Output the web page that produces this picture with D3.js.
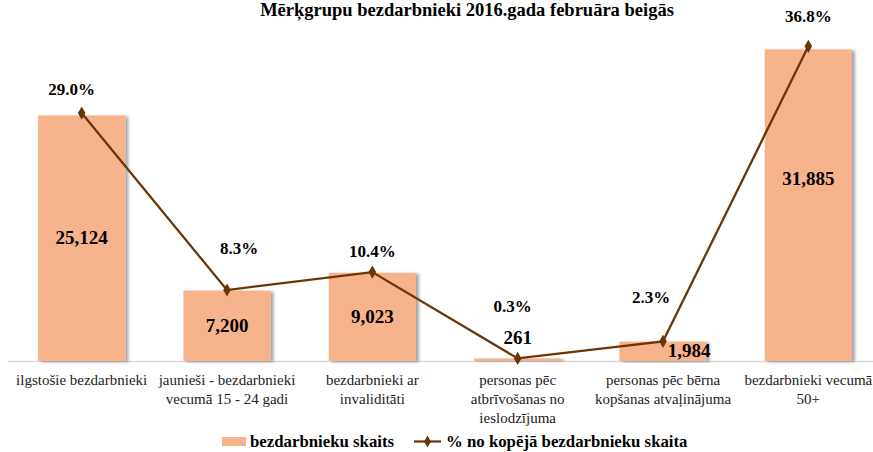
<!DOCTYPE html>
<html>
<head>
<meta charset="utf-8">
<script src="https://cdn.jsdelivr.net/npm/d3@7"></script>
<style>
  body { margin: 0; background: #fff; }
</style>
</head>
<body>
<svg id="chart"></svg>
<script>
// chart data
var categories = ["ilgstošie bezdarbnieki", "jaunieši - bezdarbnieki vecumā 15 - 24 gadi",
  "bezdarbnieki ar invaliditāti", "personas pēc atbrīvošanas no ieslodzījuma",
  "personas pēc bērna kopšanas atvaļinājuma", "bezdarbnieki vecumā 50+"];
var tickLines = [
  ["ilgstošie bezdarbnieki"],
  ["jaunieši - bezdarbnieki", "vecumā 15 - 24 gadi"],
  ["bezdarbnieki ar", "invaliditāti"],
  ["personas pēc", "atbrīvošanas no", "ieslodzījuma"],
  ["personas pēc bērna", "kopšanas atvaļinājuma"],
  ["bezdarbnieki vecumā", "50+"]
];
var counts = [25124, 7200, 9023, 261, 1984, 31885];
var shares = [29.0, 8.3, 10.4, 0.3, 2.3, 36.8];
var seriesNames = ["bezdarbnieku skaits", "% no kopējā bezdarbnieku skaita"];
var title = "Mērķgrupu bezdarbnieki 2016.gada februāra beigās";

var width = 873, height = 452,
  plotTop = 19, baseY = 361;

var barColor = "#f7b38c", lineColor = "#6b3507",
  serif = "Liberation Serif";

var svg = d3.select("#chart").attr("width", width).attr("height", height);

// shadow on bars
var defs = svg.append("defs");
var f = defs.append("filter").attr("id", "shadow")
  .attr("x", "-10%").attr("y", "-10%").attr("width", "130%").attr("height", "120%");
f.append("feDropShadow").attr("dx", 3).attr("dy", 1).attr("stdDeviation", 1.5)
  .attr("flood-color", "#000").attr("flood-opacity", 0.35);

var x = d3.scaleBand().domain(categories).range([9, 881])
  .paddingInner(0.4).paddingOuter(0.2);
var y = d3.scaleLinear().domain([0, 35000]).range([baseY, plotTop]);
var y2 = d3.scaleLinear().domain([0, 40]).range([baseY, plotTop]);

var data = categories.map(function(c, i) {
  return {cat: c, count: counts[i], share: shares[i], lines: tickLines[i]};
});

// title (sits at the top edge)
svg.append("text")
  .attr("x", 467).attr("y", 16)
  .attr("text-anchor", "middle")
  .attr("font-family", serif)
  .attr("font-size", 18.5).attr("font-weight", "bold")
  .text(title);

// axis line
svg.append("line")
  .attr("x1", 8).attr("x2", width).attr("y1", baseY + 0.5).attr("y2", baseY + 0.5)
  .attr("stroke", "#d9d9d9").attr("stroke-width", 1.5);

// bars
svg.selectAll(".bar")
    .data(data)
  .enter().append("rect")
    .attr("class", "bar")
    .attr("x", function(d) { return x(d.cat); })
    .attr("y", function(d) { return y(d.count); })
    .attr("width", x.bandwidth())
    .attr("height", function(d) { return baseY - y(d.count); })
    .style("fill", barColor)
    .attr("filter", "url(#shadow)");

// bar value labels, nudged like the original
var countOffset = {3: [0, -20], 4: [26, 0], 5: [0, -26]};
svg.selectAll(".countLbl")
    .data(data)
  .enter().append("text")
    .attr("class", "countLbl")
    .attr("x", function(d, i) {
      var o = countOffset[i] || [0, 0];
      return x(d.cat) + x.bandwidth() / 2 + o[0];
    })
    .attr("y", function(d, i) {
      var o = countOffset[i] || [0, 0];
      var mid = (y(d.count) + baseY) / 2;
      if (i == 3) mid = y(d.count);
      if (i == 4) mid = y(d.count) + 9;
      return mid + o[1] + 6;
    })
    .attr("text-anchor", "middle")
    .attr("font-family", serif)
    .attr("font-size", 19).attr("font-weight", "bold")
    .text(function(d) { return d3.format(",")(d.count); });

// line
var cx = function(d) { return x(d.cat) + x.bandwidth() / 2; };
svg.append("path")
  .datum(data)
  .attr("fill", "none")
  .attr("stroke", lineColor)
  .attr("stroke-width", 2.25)
  .attr("d", d3.line().x(cx).y(function(d) { return y2(d.share); }));

svg.selectAll(".marker")
    .data(data)
  .enter().append("path")
    .attr("class", "marker")
    .attr("transform", function(d) { return "translate(" + cx(d) + "," + y2(d.share) + ")"; })
    .attr("d", d3.symbol().type(d3.symbolDiamond).size(50))
    .style("fill", lineColor);

// percentage labels
var shareLift = [23, 41, 20, 51, 43, 29],
  shareShift = [-10, 12, 0, -5, -12, 0];
svg.selectAll(".shareLbl")
    .data(data)
  .enter().append("text")
    .attr("class", "shareLbl")
    .attr("x", function(d, i) { return cx(d) + shareShift[i]; })
    .attr("y", function(d, i) { return y2(d.share) - shareLift[i] + 5; })
    .attr("text-anchor", "middle")
    .attr("font-family", serif)
    .attr("font-size", 17).attr("font-weight", "bold")
    .text(function(d) { return d.share.toFixed(1) + "%"; });

// category labels
var ticks = svg.selectAll(".tick")
    .data(data)
  .enter().append("text")
    .attr("class", "tick")
    .attr("text-anchor", "middle")
    .attr("font-family", serif)
    .attr("font-size", 15).attr("fill", "#222");
ticks.selectAll("tspan")
    .data(function(d) { return d.lines.map(function(l) { return {l: l, c: cx(d)}; }); })
  .enter().append("tspan")
    .attr("x", function(t) { return t.c; })
    .attr("y", function(t, j) { return 385 + j * 19; })
    .text(function(t) { return t.l; });

// legend
var lg = svg.append("g").attr("font-family", serif)
  .attr("font-size", 16.8).attr("font-weight", "bold");
lg.append("rect").attr("x", 222).attr("y", 437).attr("width", 24).attr("height", 9)
  .style("fill", barColor);
lg.append("text").attr("x", 250).attr("y", 447).text(seriesNames[0]);
lg.append("line").attr("x1", 414).attr("x2", 441).attr("y1", 441.5).attr("y2", 441.5)
  .attr("stroke", lineColor).attr("stroke-width", 2.25);
lg.append("path").attr("transform", "translate(427.5,441.5)")
  .attr("d", d3.symbol().type(d3.symbolDiamond).size(40)).style("fill", lineColor);
lg.append("text").attr("x", 446).attr("y", 447).text(seriesNames[1]);
</script>
</body>
</html>
